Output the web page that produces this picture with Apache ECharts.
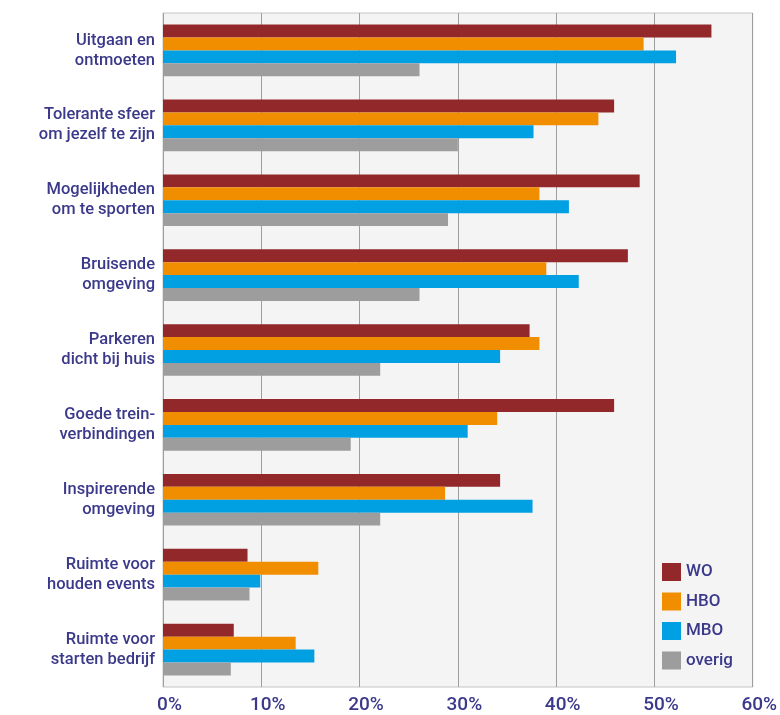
<!DOCTYPE html>
<html>
<head>
<meta charset="utf-8">
<style>
  html, body { margin: 0; padding: 0; background: #ffffff; }
  #chart { width: 780px; height: 715px; }
</style>
<script src="https://cdn.jsdelivr.net/npm/echarts@6/dist/echarts.min.js"></script>
</head>
<body>
<div id="chart"></div>
<script>
const categories = [
  "Uitgaan en\nontmoeten",
  "Tolerante sfeer\nom jezelf te zijn",
  "Mogelijkheden\nom te sporten",
  "Bruisende\nomgeving",
  "Parkeren\ndicht bij huis",
  "Goede trein-\nverbindingen",
  "Inspirerende\nomgeving",
  "Ruimte voor\nhouden events",
  "Ruimte voor\nstarten bedrijf"
];
const seriesNames = ["WO", "HBO", "MBO", "overig"];
const woValues     = [55.8, 45.9, 48.5, 47.3, 37.3, 45.9, 34.3, 8.6, 7.2];
const hboValues    = [48.9, 44.3, 38.3, 39.0, 38.3, 34.0, 28.7, 15.8, 13.5];
const mboValues    = [52.2, 37.7, 41.3, 42.3, 34.3, 31.0, 37.6, 9.9, 15.4];
const overigValues = [26.1, 30.0, 29.0, 26.1, 22.1, 19.1, 22.1, 8.8, 6.9];
const xTicks = { min: 0, max: 60, interval: 10 };

const colors = ["#93282a", "#f18e00", "#00a0e3", "#9d9d9d"];
const textColor = "#3b398a";
const fontFamily = "Roboto, 'Noto Sans', sans-serif";

const allValues = [woValues, hboValues, mboValues, overigValues];

const chart = echarts.init(document.getElementById('chart'), null, { renderer: 'canvas' });
chart.setOption({
  backgroundColor: '#ffffff',
  animation: false,
  textStyle: { fontFamily: fontFamily },
  grid: {
    left: 163, right: 25, top: 13, bottom: 28,
    show: true,
    backgroundColor: '#f4f4f4',
    borderColor: '#c4c4c4',
    borderWidth: 1
  },
  legend: {
    orient: 'vertical',
    left: 662,
    top: 563,
    padding: 0,
    itemWidth: 19,
    itemHeight: 18,
    itemGap: 11.5,
    icon: 'rect',
    data: seriesNames,
    textStyle: { color: textColor, fontSize: 17, fontWeight: 500, fontFamily: fontFamily }
  },
  xAxis: {
    type: 'value',
    min: xTicks.min,
    max: xTicks.max,
    interval: xTicks.interval,
    axisLine: { show: false },
    axisTick: { show: false },
    splitLine: { show: true, lineStyle: { color: '#9e9e9e', width: 1 } },
    axisLabel: {
      formatter: '{value}%',
      color: textColor,
      fontSize: 19,
      fontWeight: 500,
      fontFamily: fontFamily,
      margin: 9,
      padding: [0, 0, 0, 13]
    }
  },
  yAxis: {
    type: 'category',
    inverse: true,
    data: categories,
    axisLine: { show: false },
    axisTick: { show: false },
    splitLine: { show: false },
    axisLabel: {
      color: textColor,
      fontSize: 16.5,
      fontWeight: 500,
      lineHeight: 20,
      fontFamily: fontFamily,
      margin: 8,
      align: 'right'
    }
  },
  series: seriesNames.map((name, i) => ({
    name: name,
    type: 'bar',
    data: allValues[i],
    barGap: '0%',
    barCategoryGap: '31%',
    itemStyle: { color: colors[i] }
  }))
});
</script>
</body>
</html>
